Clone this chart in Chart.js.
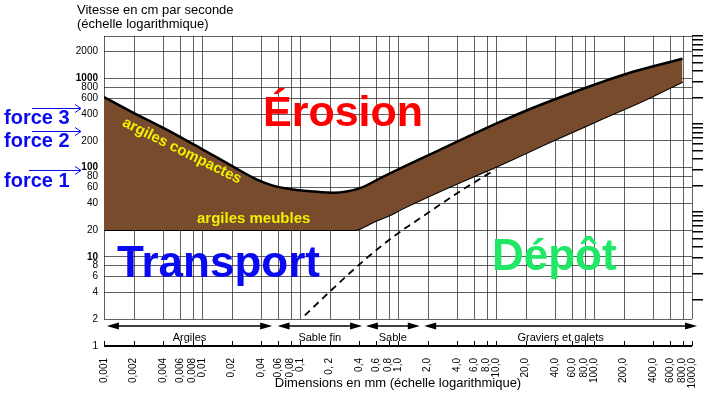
<!DOCTYPE html>
<html lang="fr">
<head>
<meta charset="utf-8">
<title>Diagramme de Hjulström</title>
<script src="https://cdn.jsdelivr.net/npm/chart.js@4.4.0/dist/chart.umd.min.js"></script>
<style>
html, body { margin: 0; padding: 0; background: #fff; }
</style>
</head>
<body>
<canvas id="hjulstrom" width="709" height="394"></canvas>
<script>
// Taille des particules (mm) et vitesse du courant (cm/s)
var tailleErosion = [0.001, 0.002, 0.0044, 0.0095, 0.021, 0.036, 0.053, 0.085, 0.14, 0.22, 0.41, 0.70, 1.24, 2.3, 5.1, 11, 24, 53, 115, 250, 800];
var vitesseErosion = [620, 413, 266, 167, 102, 74, 63, 57, 54, 52.5, 59, 79, 107, 147, 222, 327, 470, 658, 897, 1190, 1670];

var tailleTransport = [0.001, 0.36, 0.46, 0.58, 0.83, 1.05, 3.4, 11, 36, 115, 370, 800];
var vitesseTransport = [20, 20, 22, 25, 29.4, 33.6, 61, 107, 195, 344, 608, 920];

var tailleDepot = [0.112, 0.193, 0.48, 0.89, 2.1, 4.6, 9.8];
var vitesseDepot = [2.2, 3.9, 9.7, 16.7, 32, 57, 95];

// graduations
var tickTaille = [0.001, 0.002, 0.004, 0.006, 0.008, 0.01, 0.02, 0.04, 0.06, 0.08, 0.1, 0.2, 0.4, 0.6, 0.8, 1, 2, 4, 6, 8, 10, 20, 40, 60, 80, 100, 200, 400, 600, 800, 1000];
var tickTailleLabels = ['0,001', '0,002', '0,004', '0,006', '0,008', '0,01', '0,02', '0,04', '0,06', '0,08', '0,1', '0, 2', '0,4', '0,6', '0,8', '1,0', '2,0', '4,0', '6,0', '8,0', '10,0', '20,0', '40,0', '60,0', '80,0', '100,0', '200,0', '400,0', '600,0', '800,0', '1000,0'];
var tickVitesse = [1, 2, 4, 6, 8, 10, 20, 40, 60, 80, 100, 200, 400, 600, 800, 1000, 2000, 3000];
var tickVitesseLabels = ['1', '2', '4', '6', '8', '10', '20', '40', '60', '80', '100', '200', '400', '600', '800', '1000', '2000', ''];
// échelle secondaire à droite (sans étiquettes)
var tickDroite = [1, 2, 3, 4, 5, 6, 7, 8, 9, 10, 20, 30, 40, 50, 60, 70, 80, 90, 100, 200, 300, 400, 500, 600, 700, 800, 900, 1000];

// classes granulométriques
var classes = ['Argiles', 'Sable fin', 'Sable', 'Graviers et galets'];
var classesDebut = [0.00107, 0.059, 0.47, 1.85];
var classesFin = [0.052, 0.43, 1.67, 1125];

var police = '"Liberation Sans", Arial, sans-serif';
Chart.defaults.font.family = police;
Chart.defaults.color = '#000';

function points(t, v) {
    return t.map(function(d, i) { return {x: d, y: v[i]}; });
}

function fleche(ctx, x1, x2, y) {
    ctx.beginPath();
    ctx.moveTo(x1, y);
    ctx.lineTo(x2, y);
    ctx.moveTo(x2 - 6, y - 4);
    ctx.lineTo(x2, y);
    ctx.lineTo(x2 - 6, y + 4);
    ctx.stroke();
}

function doubleFleche(ctx, x1, x2, y) {
    ctx.beginPath();
    ctx.moveTo(x1 + 6, y);
    ctx.lineTo(x2 - 6, y);
    ctx.stroke();
    ctx.beginPath();
    ctx.moveTo(x1, y); ctx.lineTo(x1 + 12, y - 3.5); ctx.lineTo(x1 + 12, y + 3.5); ctx.closePath();
    ctx.moveTo(x2, y); ctx.lineTo(x2 - 12, y - 3.5); ctx.lineTo(x2 - 12, y + 3.5); ctx.closePath();
    ctx.fill();
}

var decor = {
    id: 'decor',
    beforeDatasetsDraw: function(chart) {
        // quadrillage vertical, arrêté à 2 cm/s
        var ctx = chart.ctx, sx = chart.scales.x, sy = chart.scales.y;
        var haut = sy.getPixelForValue(3000), bas = sy.getPixelForValue(2);
        ctx.save();
        ctx.strokeStyle = 'rgba(30,30,30,0.7)';
        ctx.lineWidth = 1;
        tickTaille.forEach(function(d) {
            var px = Math.round(sx.getPixelForValue(d)) + 0.5;
            ctx.beginPath();
            ctx.moveTo(px, haut);
            ctx.lineTo(px, bas);
            ctx.stroke();
        });
        ctx.restore();
    },
    afterDatasetsDraw: function(chart) {
        var ctx = chart.ctx, sx = chart.scales.x, sy = chart.scales.y;
        ctx.save();

        // graduations de l'axe des tailles (vers le haut)
        var y1 = sy.getPixelForValue(1);
        ctx.strokeStyle = '#000';
        ctx.lineWidth = 1;
        tickTaille.forEach(function(d) {
            var px = Math.round(sx.getPixelForValue(d)) + 0.5;
            ctx.beginPath();
            ctx.moveTo(px, y1);
            ctx.lineTo(px, y1 - 5);
            ctx.stroke();
        });

        // classes granulométriques
        ctx.fillStyle = '#000';
        ctx.lineWidth = 1.5;
        ctx.font = '11px ' + police;
        ctx.textAlign = 'center';
        ctx.textBaseline = 'alphabetic';
        classes.forEach(function(c, i) {
            var a = sx.getPixelForValue(classesDebut[i]);
            var b = sx.getPixelForValue(classesFin[i]);
            doubleFleche(ctx, a, b, 326);
            ctx.fillText(c, (a + b) / 2, 341);
        });

        // titre de l'axe vertical
        ctx.textAlign = 'left';
        ctx.font = '13px ' + police;
        ctx.fillText('Vitesse en cm par seconde', 77, 14);
        ctx.fillText('(échelle logarithmique)', 77, 28);

        // domaines
        ctx.font = 'bold 43px ' + police;
        ctx.fillStyle = '#ff0000';
        ctx.fillText('Érosion', 263, 126);
        ctx.font = 'bold 44px ' + police;
        ctx.fillStyle = '#0a0af2';
        ctx.fillText('Transport', 117, 277);
        ctx.fillStyle = '#1ee866';
        ctx.fillText('Dépôt', 492, 270);

        // argiles
        ctx.fillStyle = '#f0f000';
        ctx.font = 'bold 15px ' + police;
        ctx.fillText('argiles meubles', 197, 223);
        ctx.save();
        ctx.translate(182, 151);
        ctx.rotate(26.4 * Math.PI / 180);
        ctx.textAlign = 'center';
        ctx.textBaseline = 'middle';
        ctx.fillText('argiles compactes', 0, 0);
        ctx.restore();

        // forces
        ctx.fillStyle = '#0a0af2';
        ctx.strokeStyle = '#0a0af2';
        ctx.lineWidth = 1;
        ctx.font = 'bold 20px ' + police;
        ctx.fillText('force 3', 4, 124);
        ctx.fillText('force 2', 4, 147);
        ctx.fillText('force 1', 4, 187);
        fleche(ctx, 32, 81, 108.5);
        fleche(ctx, 32, 81, 131.5);
        fleche(ctx, 29, 81, 170.5);

        ctx.restore();
    }
};

var ctxGraph = document.getElementById('hjulstrom').getContext('2d');
var graph = new Chart(ctxGraph, {
    type: 'line',
    data: {
        datasets: [{
            label: 'Érosion',
            data: points(tailleErosion, vitesseErosion),
            borderColor: '#000',
            borderWidth: 2.5,
            backgroundColor: '#784b2d',
            fill: '+1',
            pointRadius: 0,
            cubicInterpolationMode: 'monotone'
        }, {
            label: 'Transport',
            data: points(tailleTransport, vitesseTransport),
            borderColor: '#000',
            borderWidth: 2,
            fill: false,
            pointRadius: 0,
            cubicInterpolationMode: 'monotone'
        }, {
            label: 'Dépôt',
            data: points(tailleDepot, vitesseDepot),
            borderColor: '#000',
            borderWidth: 1.8,
            borderDash: [7, 5],
            fill: false,
            pointRadius: 0,
            cubicInterpolationMode: 'monotone'
        }]
    },
    options: {
        responsive: false,
        animation: false,
        devicePixelRatio: 1,
        layout: { padding: { top: 36, left: 0, right: 0, bottom: 0 } },
        plugins: { legend: { display: false }, tooltip: { enabled: false } },
        scales: {
            x: {
                type: 'logarithmic',
                min: 0.001,
                max: 1000,
                afterBuildTicks: function(s) { s.ticks = tickTaille.map(function(v) { return {value: v}; }); },
                afterFit: function(s) { s.height = 48; },
                grid: { display: false },
                border: { display: false },
                ticks: {
                    autoSkip: false,
                    minRotation: 90,
                    maxRotation: 90,
                    padding: 4,
                    font: { size: 10 },
                    callback: function(v, i) { return tickTailleLabels[i]; }
                },
                title: {
                    display: true,
                    text: 'Dimensions en mm (échelle logarithmique)',
                    font: { size: 13 },
                    padding: { top: 0, bottom: 3 }
                }
            },
            y: {
                type: 'logarithmic',
                position: 'left',
                min: 1,
                max: 3000,
                afterBuildTicks: function(s) { s.ticks = tickVitesse.map(function(v) { return {value: v}; }); },
                afterFit: function(s) { s.width = 104; },
                grid: {
                    drawTicks: false,
                    color: function(c) { return c.tick && c.tick.value === 1 ? '#000' : 'rgba(30,30,30,0.7)'; },
                    lineWidth: function(c) { return c.tick && c.tick.value === 1 ? 2 : 1; }
                },
                border: { display: false },
                ticks: {
                    autoSkip: false,
                    padding: 6,
                    font: function(c) {
                        var v = c.tick ? c.tick.value : 0;
                        return { size: 10, weight: (v === 10 || v === 100 || v === 1000) ? 'bold' : 'normal' };
                    },
                    callback: function(v, i) { return tickVitesseLabels[i]; }
                }
            },
            y2: {
                type: 'logarithmic',
                position: 'right',
                min: 1 / 3,
                max: 1000,
                afterBuildTicks: function(s) { s.ticks = tickDroite.map(function(v) { return {value: v}; }); },
                afterFit: function(s) { s.width = 17; },
                grid: { drawOnChartArea: false, drawTicks: true, tickLength: 11, color: '#000', lineWidth: 1.5 },
                border: { display: false },
                ticks: { display: false }
            }
        }
    },
    plugins: [decor]
});
</script>
</body>
</html>
